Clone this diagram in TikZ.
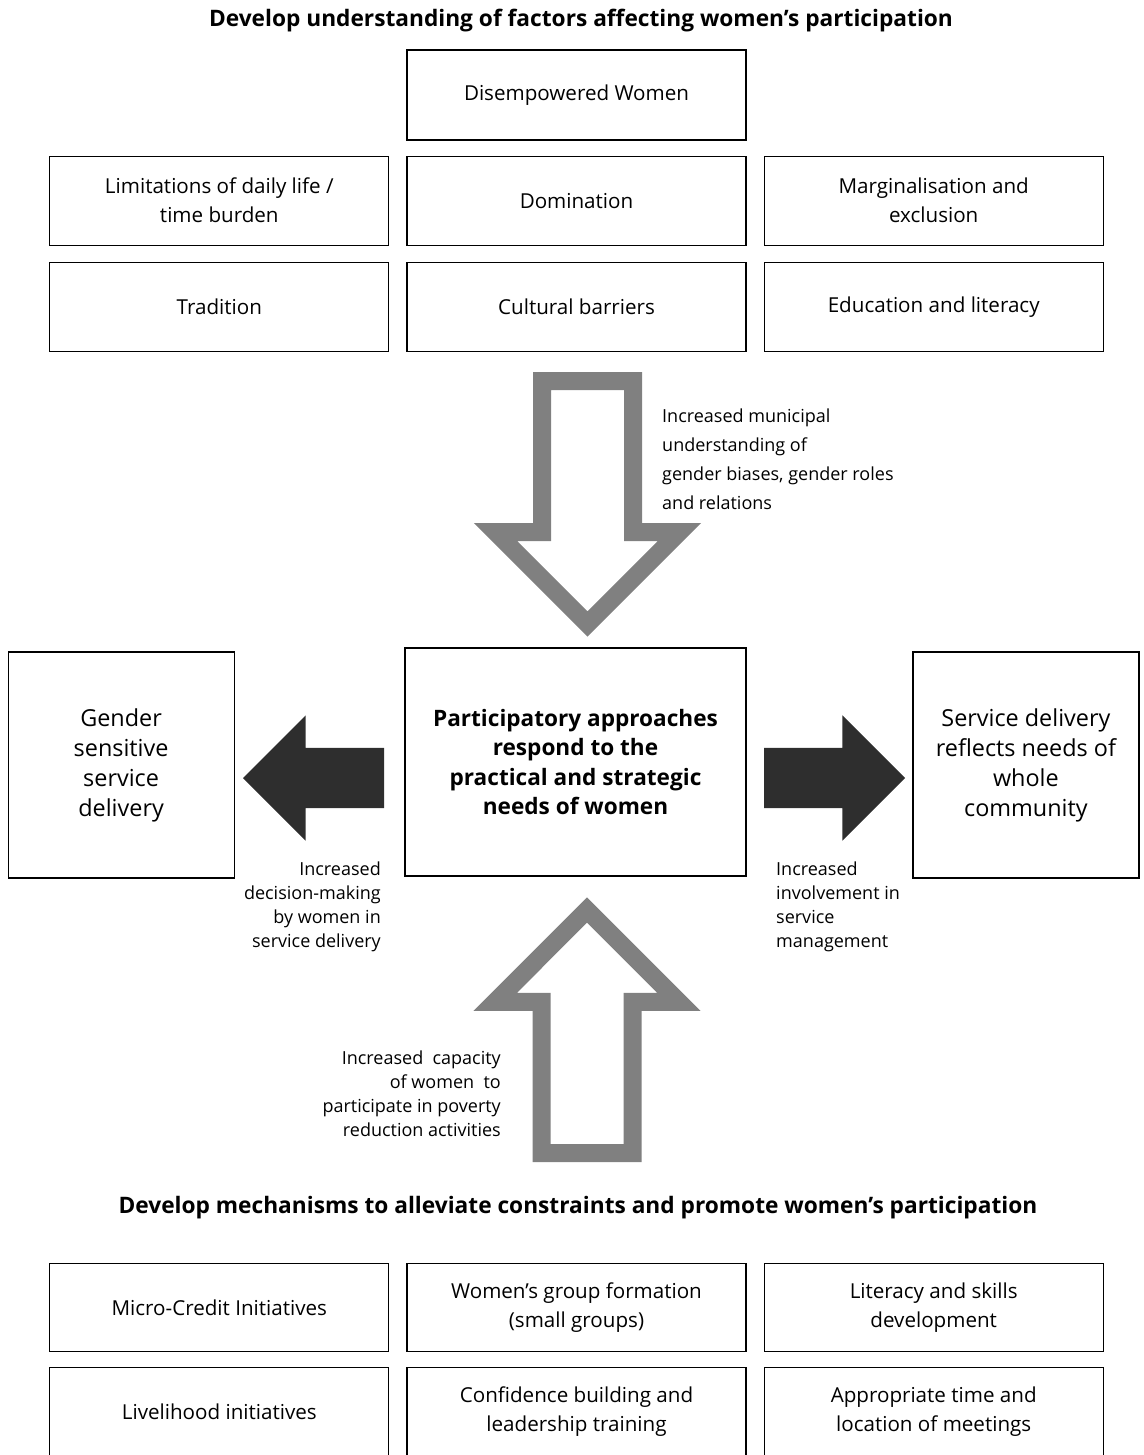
\documentclass[tikz,border=0pt]{standalone}
\usepackage{fontspec}
\setmainfont{Open Sans}
\usepackage{tikz}
\usetikzlibrary{shapes.arrows, positioning}

\begin{document}
\begin{tikzpicture}[
    x=1pt, y=-1pt,
    node distance=16pt and 17pt,
    every node/.style={font=\fontsize{20.6}{29}\selectfont},
    box/.style={rectangle, draw, line width=1.2pt, minimum width=339pt, minimum height=89pt, align=center},
    bigbox/.style={rectangle, draw, line width=1.2pt, minimum width=226pt, minimum height=226pt, align=center, font=\fontsize{23.4}{30}\selectfont},
    mainbox/.style={rectangle, draw, line width=2.6pt, minimum width=341pt, minimum height=228pt, align=center, font=\fontsize{22.6}{29.5}\selectfont\bfseries},
    heading/.style={font=\fontsize{22.7}{26}\selectfont\bfseries},
    note/.style={inner sep=0pt, font=\fontsize{18}{24}\selectfont},
    hollowarrow/.style={single arrow, draw=black!50, fill=white, line width=18pt, line join=miter,
        inner sep=36.5pt, minimum width=165pt, single arrow head extend=46.3pt, minimum height=243pt, outer sep=0pt},
    solidarrow/.style={single arrow, draw=none, fill=black!82,
        inner sep=30pt, minimum width=125pt, single arrow head extend=32.5pt, minimum height=141pt, outer sep=0pt}
]
\useasboundingbox (0,0) rectangle (1143,1455);

% Factors
\node[heading] (ttop) at (581,21) {Develop understanding of factors affecting women's participation};
\node[box, minimum height=90pt] (dis) at (576.5,95) {Disempowered Women};
\node[box, below=15pt of dis] (dom) {Domination};
\node[box, left=of dom] (lim) {Limitations of daily life /\\time burden};
\node[box, right=of dom] (marg) {Marginalisation and\\exclusion};
\node[box, below=of dom] (cult) {Cultural barriers};
\node[box, left=of cult] (trad) {Tradition};
\node[box, right=of cult] (edu) {Education and literacy};

% Centre and outcomes
\node[mainbox] (part) at (575.5,762) {Participatory approaches\\respond to the\\practical and strategic\\needs of women};
\node[bigbox, left=169pt of part, yshift=-3pt] (gend) {Gender\\sensitive\\service\\delivery};
\node[bigbox, right=165pt of part, yshift=-3pt] (serv) {Service delivery\\reflects needs of\\whole\\community};

% Arrows
\node[hollowarrow, shape border rotate=270, anchor=tail] (downarr) at (587.5,381) {};
\node[hollowarrow, shape border rotate=90, anchor=tail] (uparr) at (587,1153) {};
\node[solidarrow, shape border rotate=180, anchor=tail] (leftarr) at (384,778) {};
\node[solidarrow, anchor=tail] (rightarr) at (764,778) {};

% Arrow labels
\node[note, anchor=north west, align=left, font=\fontsize{18}{29}\selectfont] (mun) at (662,409) {Increased municipal\\understanding of\\gender biases, gender roles\\and relations};
\node[note, anchor=north east, align=right] (dec) at (381,862) {Increased\\decision-making\\by women in\\service delivery};
\node[note, anchor=north west, align=left] (inv) at (776,862) {Increased\\involvement in\\service\\management};
\node[note, anchor=north east, align=right] (cap) at (501,1051) {Increased\ \ capacity\\of women\ \ to\\participate in poverty\\reduction activities};

% Mechanisms
\node[heading] (tbot) at (578,1208) {Develop mechanisms to alleviate constraints and promote women's participation};
\node[box, minimum height=88pt] (grp) at (576.5,1307.5) {Women's group formation\\(small groups)};
\node[box, minimum height=88pt, left=of grp] (micro) {Micro-Credit Initiatives};
\node[box, minimum height=88pt, right=of grp] (lit) {Literacy and skills\\development};
\node[box, minimum height=88pt, below=15pt of grp] (conf) {Confidence building and\\leadership training};
\node[box, minimum height=88pt, left=of conf] (live) {Livelihood initiatives};
\node[box, minimum height=88pt, right=of conf] (meet) {Appropriate time and\\location of meetings};

\end{tikzpicture}
\end{document}
